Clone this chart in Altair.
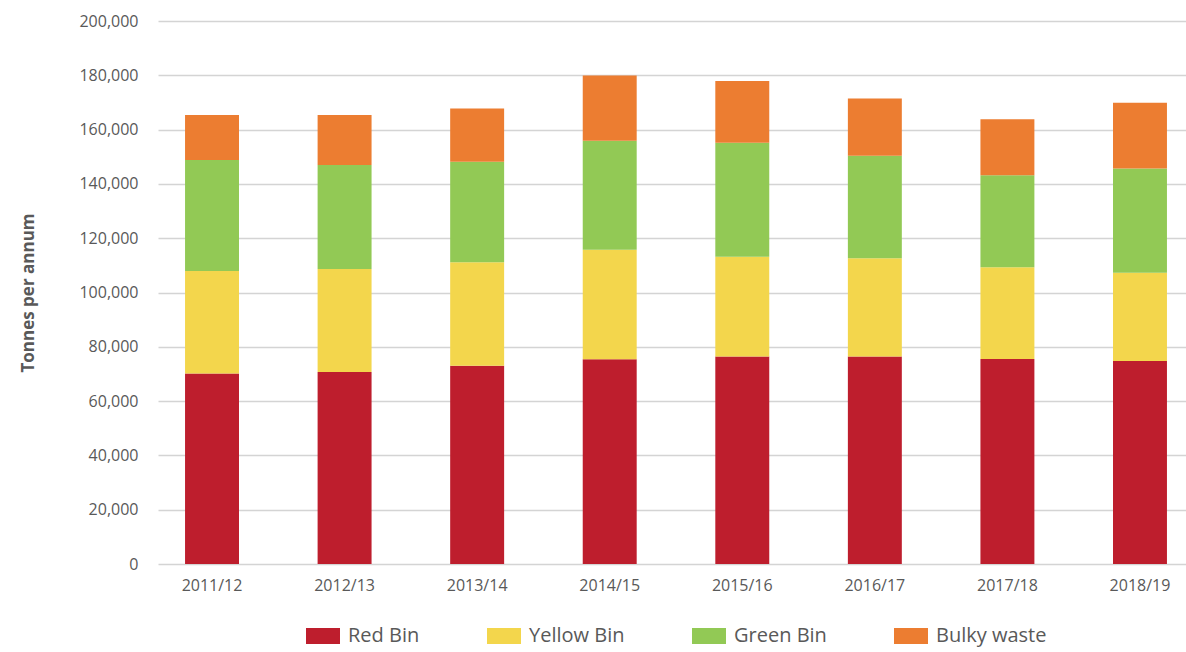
import altair as alt
import pandas as pd

years = ["2011/12", "2012/13", "2013/14", "2014/15", "2015/16", "2016/17", "2017/18", "2018/19"]
series = ["Red Bin", "Yellow Bin", "Green Bin", "Bulky waste"]
colors = ["#BE1E2D", "#F3D64C", "#92C955", "#EC7D31"]

red_bin = [70200, 70700, 73000, 75400, 76400, 76400, 75500, 74800]
yellow_bin = [37700, 38000, 38100, 40300, 36800, 36200, 33800, 32500]
green_bin = [40900, 38300, 37100, 40200, 42000, 37800, 33900, 38400]
bulky_waste = [16600, 18400, 19600, 24000, 22700, 21100, 20600, 24200]

y_ticks = list(range(0, 200001, 20000))

rows = []
for si, (name, vals) in enumerate(zip(series, [red_bin, yellow_bin, green_bin, bulky_waste])):
    for yr, v in zip(years, vals):
        rows.append({"Year": yr, "Series": name, "Tonnes": v, "order": si})
df = pd.DataFrame(rows)

FONT = "Open Sans"
GRAY = "#595959"

chart = alt.Chart(df).mark_bar().encode(
    x=alt.X("Year:N", sort=years,
            scale=alt.Scale(range=[0, 1036], paddingInner=0.593, paddingOuter=0.204),
            axis=alt.Axis(title=None, labelAngle=0, ticks=False, domain=False,
                          labelFontSize=16, labelColor=GRAY, labelFont=FONT,
                          labelPadding=13, grid=False)),
    y=alt.Y("Tonnes:Q", stack="zero",
            scale=alt.Scale(domain=[0, 200000], nice=False),
            axis=alt.Axis(title="Tonnes per annum", values=y_ticks, format=",.0f",
                          ticks=False, domain=False, tickSize=0, labelPadding=20,
                          labelFontSize=16, labelColor=GRAY, labelFont=FONT,
                          titleFont=FONT, titleFontSize=17, titleFontWeight="bold",
                          titleColor=GRAY, titleX=-130, titleY=271.5,
                          titleAngle=270, titleBaseline="middle", titleAlign="center",
                          grid=True, gridColor="#d4d4d4", gridWidth=1.5)),
    color=alt.Color("Series:N", sort=series,
                    scale=alt.Scale(domain=series, range=colors),
                    legend=alt.Legend(title=None, orient="none", legendX=148, legendY=598,
                                      direction="horizontal",
                                      symbolType="M-1,-0.47L1,-0.47L1,0.47L-1,0.47Z",
                                      symbolSize=1156, symbolStrokeWidth=0,
                                      labelFontSize=20, labelFont=FONT, labelColor=GRAY,
                                      labelOffset=8, columnPadding=67, padding=0)),
    order=alt.Order("order:Q", sort="ascending"),
).properties(
    width=1028,
    height=543,
    autosize=alt.AutoSizeParams(type="none"),
    padding={"left": 158, "top": 21, "right": 0, "bottom": 88},
    background="white",
).configure_view(stroke=None)

chart.save("out.html", embed_options={"renderer": "svg", "actions": False})
